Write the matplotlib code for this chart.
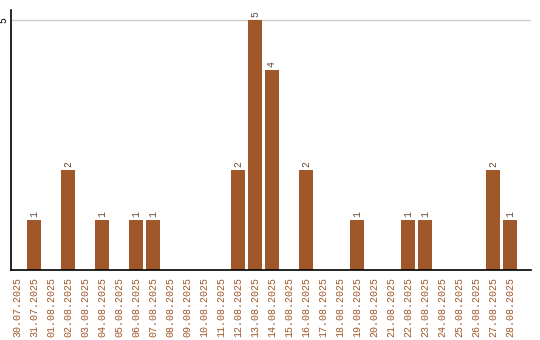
import matplotlib
matplotlib.use("Agg")
import matplotlib.pyplot as plt

# data
dates = ["30.07.2025", "31.07.2025", "01.08.2025", "02.08.2025", "03.08.2025",
         "04.08.2025", "05.08.2025", "06.08.2025", "07.08.2025", "08.08.2025",
         "09.08.2025", "10.08.2025", "11.08.2025", "12.08.2025", "13.08.2025",
         "14.08.2025", "15.08.2025", "16.08.2025", "17.08.2025", "18.08.2025",
         "19.08.2025", "20.08.2025", "21.08.2025", "22.08.2025", "23.08.2025",
         "24.08.2025", "25.08.2025", "26.08.2025", "27.08.2025", "28.08.2025"]
counts = [0, 1, 0, 2, 0, 1, 0, 1, 1, 0,
          0, 0, 0, 2, 5, 4, 0, 2, 0, 0,
          1, 0, 0, 1, 1, 0, 0, 0, 2, 1]
y_ticks = [5]

bar_color = "#a0582a"
label_color = "#a0582a"
font = ["Liberation Mono", "DejaVu Sans Mono"]

fig = plt.figure(figsize=(5.4, 3.4), dpi=100)
ax = fig.add_axes([11 / 540, 70 / 340, 520 / 540, 260 / 340])

x = list(range(len(dates)))
ax.bar(x, counts, width=0.82, color=bar_color, zorder=2)

for xi, v in zip(x, counts):
    if v > 0:
        ax.text(xi, v + 0.06, str(v), rotation=90, ha="center", va="bottom",
                fontsize=7, family=font, color="#6b4a32")

ax.set_xlim(-0.35, 30.24)
ax.set_ylim(0, 5.2)

ax.set_yticks(y_ticks)
ax.set_yticklabels([str(t) for t in y_ticks], rotation=90, va="center",
                   fontsize=7, family=font)
ax.yaxis.grid(True, color="#cccccc", linewidth=1, zorder=0)
ax.tick_params(axis="y", length=0, pad=1.5)

ax.set_xticks(x)
ax.set_xticklabels(dates, rotation=90, fontsize=7.2, family=font,
                   color=label_color, va="top")
ax.tick_params(axis="x", length=0, pad=5)

for s in ["top", "right"]:
    ax.spines[s].set_visible(False)
ax.spines["left"].set_linewidth(1.2)
ax.spines["bottom"].set_linewidth(1.2)

fig.savefig("out.png", dpi=100)
